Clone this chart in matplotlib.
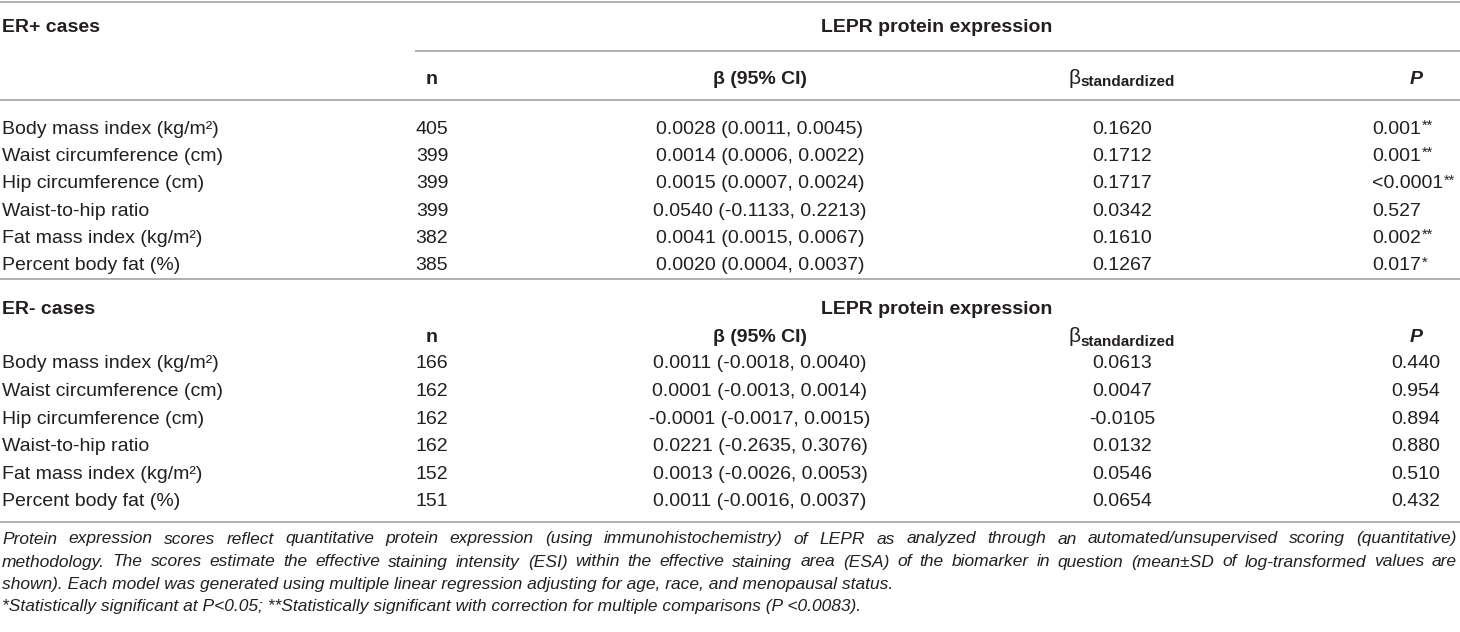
import matplotlib
matplotlib.use("Agg")
import matplotlib.pyplot as plt
from matplotlib import font_manager

# ---------------- data ----------------
variables = ["Body mass index (kg/m²)", "Waist circumference (cm)", "Hip circumference (cm)",
             "Waist-to-hip ratio", "Fat mass index (kg/m²)", "Percent body fat (%)"]

erpos_n = ["405", "399", "399", "399", "382", "385"]
erpos_beta_ci = ["0.0028 (0.0011, 0.0045)", "0.0014 (0.0006, 0.0022)", "0.0015 (0.0007, 0.0024)",
                 "0.0540 (-0.1133, 0.2213)", "0.0041 (0.0015, 0.0067)", "0.0020 (0.0004, 0.0037)"]
erpos_beta_std = ["0.1620", "0.1712", "0.1717", "0.0342", "0.1610", "0.1267"]
erpos_p = ["0.001", "0.001", "<0.0001", "0.527", "0.002", "0.017"]
erpos_sig = ["**", "**", "**", "", "**", "*"]

erneg_n = ["166", "162", "162", "162", "152", "151"]
erneg_beta_ci = ["0.0011 (-0.0018, 0.0040)", "0.0001 (-0.0013, 0.0014)", "-0.0001 (-0.0017, 0.0015)",
                 "0.0221 (-0.2635, 0.3076)", "0.0013 (-0.0026, 0.0053)", "0.0011 (-0.0016, 0.0037)"]
erneg_beta_std = ["0.0613", "0.0047", "-0.0105", "0.0132", "0.0546", "0.0654"]
erneg_p = ["0.440", "0.954", "0.894", "0.880", "0.510", "0.432"]

section_titles = ["ER+ cases", "ER- cases"]
group_header = "LEPR protein expression"
col_headers = ["n", "β (95% CI)", "β", "standardized", "P"]

footnote_lines = [
    "Protein expression scores reflect quantitative protein expression (using immunohistochemistry) of LEPR as analyzed through an automated/unsupervised scoring (quantitative)",
    "methodology. The scores estimate the effective staining intensity (ESI) within the effective staining area (ESA) of the biomarker in question (mean±SD of log-transformed values are",
    "shown). Each model was generated using multiple linear regression adjusting for age, race, and menopausal status.",
    "*Statistically significant at P<0.05; **Statistically significant with correction for multiple comparisons (P <0.0083).",
]

# ---------------- layout ----------------
W, H = 1460, 632
FONT = "Liberation Sans"
_names = {f.name for f in font_manager.fontManager.ttflist}
FOOT_FONT = "Liberation Sans Narrow" if "Liberation Sans Narrow" in _names else FONT
TXT = "#231f20"
LINE = "#9a9a9a"
FS = 14
fig = plt.figure(figsize=(W / 100, H / 100), dpi=100)
ax = fig.add_axes([0, 0, 1, 1])
ax.set_xlim(0, W)
ax.set_ylim(H, 0)
ax.axis("off")
renderer = fig.canvas.get_renderer()

X_LABEL = 2
X_N = 432
X_CI = 760
X_STD = 1122
X_P_LEFT = 1372
X_P_CENTER = 1416
X_GROUP = 937
BASE_OFF = 6.5  # baseline below visual center


def txt(x, yc, s, ha="left", size=FS, weight="normal", style="normal"):
    return ax.text(x, yc + BASE_OFF, s, ha=ha, va="baseline", fontsize=size, color=TXT,
                   family=FONT, fontweight=weight, fontstyle=style)


def width(t):
    return t.get_window_extent(renderer).width


def hline(y, x0=0, x1=W):
    ax.plot([x0, x1], [y, y], color=LINE, lw=1.1, solid_capstyle="butt")


def beta_std_header(yc):
    b = txt(0, yc, col_headers[2], size=FS + 1)
    s = ax.text(0, yc + BASE_OFF + 3, col_headers[3], ha="left", va="baseline", fontsize=FS - 3,
                color=TXT, family=FONT, fontweight="bold")
    wb, ws = width(b), width(s)
    x0 = X_STD - (wb + ws) / 2
    b.set_x(x0)
    s.set_x(x0 + wb)


def p_with_sig(x, yc, value, sig):
    t = txt(x, yc, value)
    if sig:
        ax.text(x + width(t) + 1, yc + BASE_OFF - 4, sig, ha="left", va="baseline", fontsize=FS - 3.5,
                color=TXT, family=FONT)


# lines
hline(1.5)
hline(50.5, 415, W)
hline(100)
hline(279)
hline(522)

# ---- ER+ section ----
txt(X_LABEL, 26, section_titles[0], weight="bold")
txt(X_GROUP, 26, group_header, ha="center", weight="bold")
hy = 77
txt(X_N, hy, col_headers[0], ha="center", weight="bold")
txt(X_CI, hy, col_headers[1], ha="center", weight="bold")
beta_std_header(hy)
txt(X_P_CENTER, hy, col_headers[4], ha="center", weight="bold", style="italic")

STEP = 27.4
for i, var in enumerate(variables):
    yc = 127 + i * STEP
    txt(X_LABEL, yc, var)
    txt(X_N, yc, erpos_n[i], ha="center")
    txt(X_CI, yc, erpos_beta_ci[i], ha="center")
    txt(X_STD, yc, erpos_beta_std[i], ha="center")
    p_with_sig(X_P_LEFT, yc, erpos_p[i], erpos_sig[i])

# ---- ER- section ----
txt(X_LABEL, 307, section_titles[1], weight="bold")
txt(X_GROUP, 308, group_header, ha="center", weight="bold")
hy = 336
txt(X_N, hy, col_headers[0], ha="center", weight="bold")
txt(X_CI, hy, col_headers[1], ha="center", weight="bold")
beta_std_header(hy)
txt(X_P_CENTER, hy, col_headers[4], ha="center", weight="bold", style="italic")

STEP2 = 27.6
for i, var in enumerate(variables):
    yc = 362 + i * STEP2
    txt(X_LABEL, yc, var)
    txt(X_N, yc, erneg_n[i], ha="center")
    txt(X_CI, yc, erneg_beta_ci[i], ha="center")
    txt(X_STD, yc, erneg_beta_std[i], ha="center")
    txt(X_P_CENTER, yc, erneg_p[i], ha="center")

# ---- footnote ----
probe = ax.text(0, 0, footnote_lines[2], fontsize=FS, family=FOOT_FONT, fontstyle="italic")
FFS = min(FS, FS * (895 - 2) / width(probe))
probe.remove()

foot_y = [538, 561, 583.5, 606]
for li, line in enumerate(footnote_lines):
    yb = foot_y[li] + 5.5
    if li < 2:
        words = line.split(" ")
        ts = [ax.text(0, yb, w, ha="left", va="baseline", fontsize=FFS, family=FOOT_FONT,
                      fontstyle="italic", color=TXT) for w in words]
        ws = [width(t) for t in ts]
        gap = (W - 3 - X_LABEL - sum(ws)) / (len(words) - 1)
        x = X_LABEL
        for t, w in zip(ts, ws):
            t.set_x(x)
            x += w + gap
    else:
        ax.text(X_LABEL, yb, line, ha="left", va="baseline", fontsize=FFS, family=FOOT_FONT,
                fontstyle="italic", color=TXT)

fig.savefig("out.png", dpi=100)
